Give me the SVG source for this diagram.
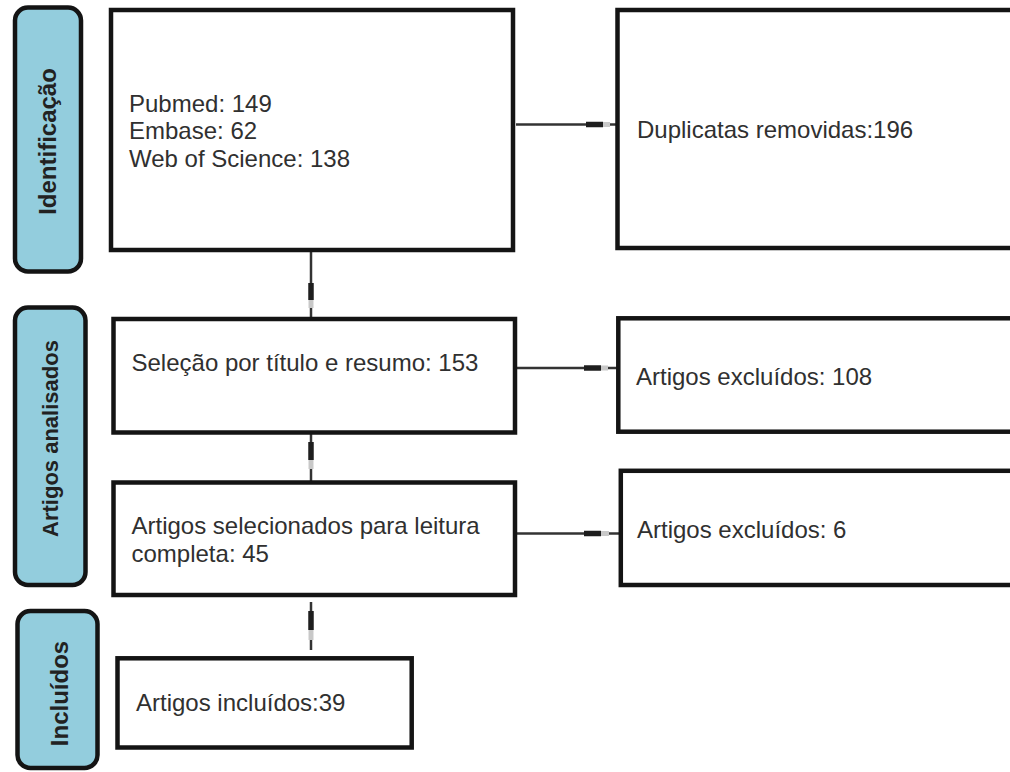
<svg xmlns="http://www.w3.org/2000/svg" width="1010" height="772" viewBox="0 0 1010 772">
<style>
.box{fill:#fff;stroke:#141414;stroke-width:4.5}
.side{fill:#93CDDD;stroke:#141414;stroke-width:4.5}
.t{font-family:"Liberation Sans",Arial,sans-serif;font-size:24px;fill:#303030}
.st{font-family:"Liberation Sans",Arial,sans-serif;font-weight:bold;fill:#222;text-anchor:middle}
.ln{stroke:#333;stroke-width:2.5;fill:none}
.mk{stroke:#1e1e1e;stroke-width:5.5}
.mk2{stroke:#c8c8c8;stroke-width:5}
</style>
<rect width="1010" height="772" fill="#fff"/>
<g id="side-identificacao">
<rect class="side" x="15" y="7.5" width="66" height="264" rx="13"/>
<text class="st" font-size="24" transform="translate(56,141.5) rotate(-90)">Identificação</text>
</g>
<g id="side-artigos">
<rect class="side" x="15" y="307.5" width="70.5" height="277.5" rx="13"/>
<text class="st" font-size="22" transform="translate(57.5,438.5) rotate(-90)">Artigos analisados</text>
</g>
<g id="side-incluidos">
<rect class="side" x="17.5" y="611" width="80" height="157" rx="13"/>
<text class="st" font-size="24" transform="translate(67.5,693.5) rotate(-90)">Incluídos</text>
</g>
<g id="connectors">
<line class="ln" x1="311" y1="250" x2="311" y2="318"/>
<line class="mk" x1="311" y1="283" x2="311" y2="300"/>
<line class="mk2" x1="311" y1="300" x2="311" y2="308"/>
<line class="ln" x1="516" y1="124.5" x2="617" y2="124.5"/>
<line class="mk" x1="586" y1="124.5" x2="603" y2="124.5"/>
<line class="mk2" x1="603" y1="124.5" x2="610" y2="124.5"/>
<line class="ln" x1="516" y1="368" x2="617" y2="368"/>
<line class="mk" x1="584" y1="368" x2="601" y2="368"/>
<line class="mk2" x1="601" y1="368" x2="608" y2="368"/>
<line class="ln" x1="311" y1="433" x2="311" y2="481"/>
<line class="mk" x1="311" y1="442" x2="311" y2="460"/>
<line class="mk2" x1="311" y1="460" x2="311" y2="469"/>
<line class="ln" x1="516" y1="533.5" x2="619" y2="533.5"/>
<line class="mk" x1="584" y1="533.5" x2="601" y2="533.5"/>
<line class="mk2" x1="601" y1="533.5" x2="609" y2="533.5"/>
<line class="ln" x1="311" y1="602" x2="311" y2="650"/>
<line class="mk" x1="311" y1="611" x2="311" y2="630"/>
<line class="mk2" x1="311" y1="630" x2="311" y2="640"/>
</g>
<g id="node-bases">
<rect class="box" x="111" y="10" width="402" height="240"/>
<text class="t" x="129" y="112">Pubmed: 149</text>
<text class="t" x="129" y="139">Embase: 62</text>
<text class="t" x="129" y="166.5">Web of Science: 138</text>
</g>
<g id="node-duplicatas">
<rect class="box" x="617.5" y="10" width="410" height="238"/>
<text class="t" x="637" y="137.5">Duplicatas removidas:196</text>
</g>
<g id="node-selecao">
<rect class="box" x="113.5" y="319" width="401.5" height="113.5"/>
<text class="t" x="131.5" y="370.5">Seleção por título e resumo: 153</text>
</g>
<g id="node-excluidos108">
<rect class="box" x="618.3" y="318.3" width="410" height="113.4"/>
<text class="t" x="636" y="385">Artigos excluídos: 108</text>
</g>
<g id="node-leitura">
<rect class="box" x="113.5" y="482.5" width="401.5" height="112.5"/>
<text class="t" x="131.5" y="533.5">Artigos selecionados para leitura</text>
<text class="t" x="131.5" y="561.5">completa: 45</text>
</g>
<g id="node-excluidos6">
<rect class="box" x="620.8" y="470.8" width="410" height="114.2"/>
<text class="t" x="637" y="537.5">Artigos excluídos: 6</text>
</g>
<g id="node-incluidos">
<rect class="box" x="117.5" y="658.3" width="294.2" height="89.2"/>
<text class="t" x="136" y="710.5">Artigos incluídos:39</text>
</g>
</svg>
